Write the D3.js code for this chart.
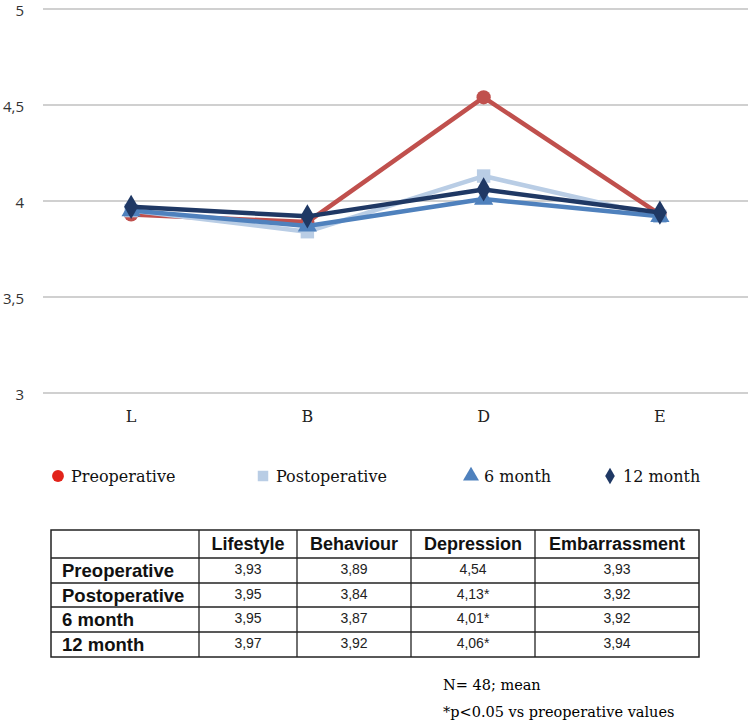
<!DOCTYPE html>
<html><head><meta charset="utf-8">
<script src="https://cdn.jsdelivr.net/npm/d3@7"></script>
<style>html,body{margin:0;padding:0;background:#fff;}</style>
</head><body>
<svg id="c" width="752" height="722"></svg>
<script>
const categories = ["L", "B", "D", "E"];
const columnNames = ["Lifestyle", "Behaviour", "Depression", "Embarrassment"];
const seriesNames = ["Preoperative", "Postoperative", "6 month", "12 month"];
const preoperative = [3.93, 3.89, 4.54, 3.93];
const postoperative = [3.95, 3.84, 4.13, 3.92];
const month6 = [3.95, 3.87, 4.01, 3.92];
const month12 = [3.97, 3.92, 4.06, 3.94];
const significant = [[false,false,false,false],[false,false,true,false],[false,false,true,false],[false,false,true,false]];
const yTicks = [3, 3.5, 4, 4.5, 5];
const notes = ["N= 48; mean", "*p<0.05 vs preoperative values"];

const seriesValues = [preoperative, postoperative, month6, month12];
const colors = ["#c0504d", "#b9cde5", "#4f81bd", "#1f3864"];
const markerTypes = [d3.symbolCircle, d3.symbolSquare, d3.symbolTriangle, d3.symbolDiamond];
const markerSizes = [160, 180, 160, 170];
const fmt = v => d3.format(".2f")(v).replace(".", ",");

const svg = d3.select("#c");
const x = d3.scaleBand().domain(categories).range([43, 748]);
const y = d3.scaleLinear().domain([3, 5]).range([393, 9]);

// grid
svg.append("g").selectAll("line").data(yTicks).join("line")
  .attr("x1", 43).attr("x2", 748)
  .attr("y1", d => y(d)).attr("y2", d => y(d))
  .attr("stroke", "#c0c0c0").attr("stroke-width", 1.5);

// y axis labels
const yAxis = d3.axisLeft(y).tickValues(yTicks).tickSize(0).tickPadding(0)
  .tickFormat(d => String(d).replace(".", ","));
const gy = svg.append("g").attr("transform", "translate(24,0)").call(yAxis);
gy.select(".domain").remove();
gy.selectAll("text").attr("font-family", "Open Sans, Liberation Sans, sans-serif")
  .attr("font-size", 15).attr("fill", "#333").attr("dy", "0.4em");

// x axis labels
const xAxis = d3.axisBottom(x).tickSize(0).tickPadding(0);
const gx = svg.append("g").attr("transform", "translate(0,411)").call(xAxis);
gx.select(".domain").remove();
gx.selectAll("text").attr("font-family", "DejaVu Serif, serif")
  .attr("font-size", 16).attr("fill", "#222");

// lines + markers
const line = d3.line().x((d, i) => x(categories[i]) + x.bandwidth() / 2).y(d => y(d));
seriesValues.forEach((vals, s) => {
  svg.append("path").datum(vals).attr("d", line)
    .attr("fill", "none").attr("stroke", colors[s]).attr("stroke-width", 4.5)
    .attr("stroke-linejoin", "round");
  svg.append("g").selectAll("path").data(vals).join("path")
    .attr("d", d3.symbol().type(markerTypes[s]).size(markerSizes[s]))
    .attr("transform", (d, i) => `translate(${x(categories[i]) + x.bandwidth() / 2},${y(d)})`)
    .attr("fill", colors[s]);
});

// legend
const legendX = [58, 263, 471, 610];
const lg = svg.append("g");
seriesNames.forEach((name, s) => {
  lg.append("path")
    .attr("d", d3.symbol().type(markerTypes[s]).size(s === 3 ? 80 : 110)())
    .attr("transform", `translate(${legendX[s]},476)`)
    .attr("fill", s === 0 ? "#e2231a" : colors[s]);
  lg.append("text").attr("x", legendX[s] + 13).attr("y", 482)
    .attr("font-family", "DejaVu Serif, serif").attr("font-size", 16).attr("fill", "#111")
    .text(name);
});

// table
const colX = [51, 199, 297, 411, 535, 699];
const rowY = [530, 558, 583, 607, 632, 657];
const tg = svg.append("g");
tg.append("rect").attr("x", colX[0]).attr("y", rowY[0])
  .attr("width", colX[5] - colX[0]).attr("height", rowY[5] - rowY[0])
  .attr("fill", "none").attr("stroke", "#222").attr("stroke-width", 1.5);
colX.slice(1, 5).forEach(cx => tg.append("line").attr("x1", cx).attr("x2", cx)
  .attr("y1", rowY[0]).attr("y2", rowY[5]).attr("stroke", "#222").attr("stroke-width", 1.3));
rowY.slice(1, 5).forEach(ry => tg.append("line").attr("x1", colX[0]).attr("x2", colX[5])
  .attr("y1", ry).attr("y2", ry).attr("stroke", "#222").attr("stroke-width", 1.3));
columnNames.forEach((c, j) => tg.append("text")
  .attr("x", (colX[j + 1] + colX[j + 2]) / 2).attr("y", rowY[0] + 20)
  .attr("text-anchor", "middle").attr("font-family", "Liberation Sans, Arial, sans-serif")
  .attr("font-weight", "bold").attr("font-size", 18).attr("fill", "#111").text(c));
seriesNames.forEach((n, i) => {
  tg.append("text").attr("x", colX[0] + 11).attr("y", rowY[i + 1] + 19)
    .attr("font-family", "Liberation Sans, Arial, sans-serif")
    .attr("font-weight", "bold").attr("font-size", 18.5).attr("fill", "#111").text(n);
  seriesValues[i].forEach((v, j) => tg.append("text")
    .attr("x", (colX[j + 1] + colX[j + 2]) / 2).attr("y", rowY[i + 1] + 16)
    .attr("text-anchor", "middle").attr("font-family", "Liberation Sans, Arial, sans-serif")
    .attr("font-size", 14).attr("fill", "#222").text(fmt(v) + (significant[i][j] ? "*" : "")));
});

// notes
notes.forEach((t, i) => svg.append("text").attr("x", 443).attr("y", 690 + i * 27)
  .attr("font-family", "DejaVu Serif, serif").attr("font-size", 14.5).attr("fill", "#000")
  .attr("font-weight", 500).text(t));
</script>
</body></html>
